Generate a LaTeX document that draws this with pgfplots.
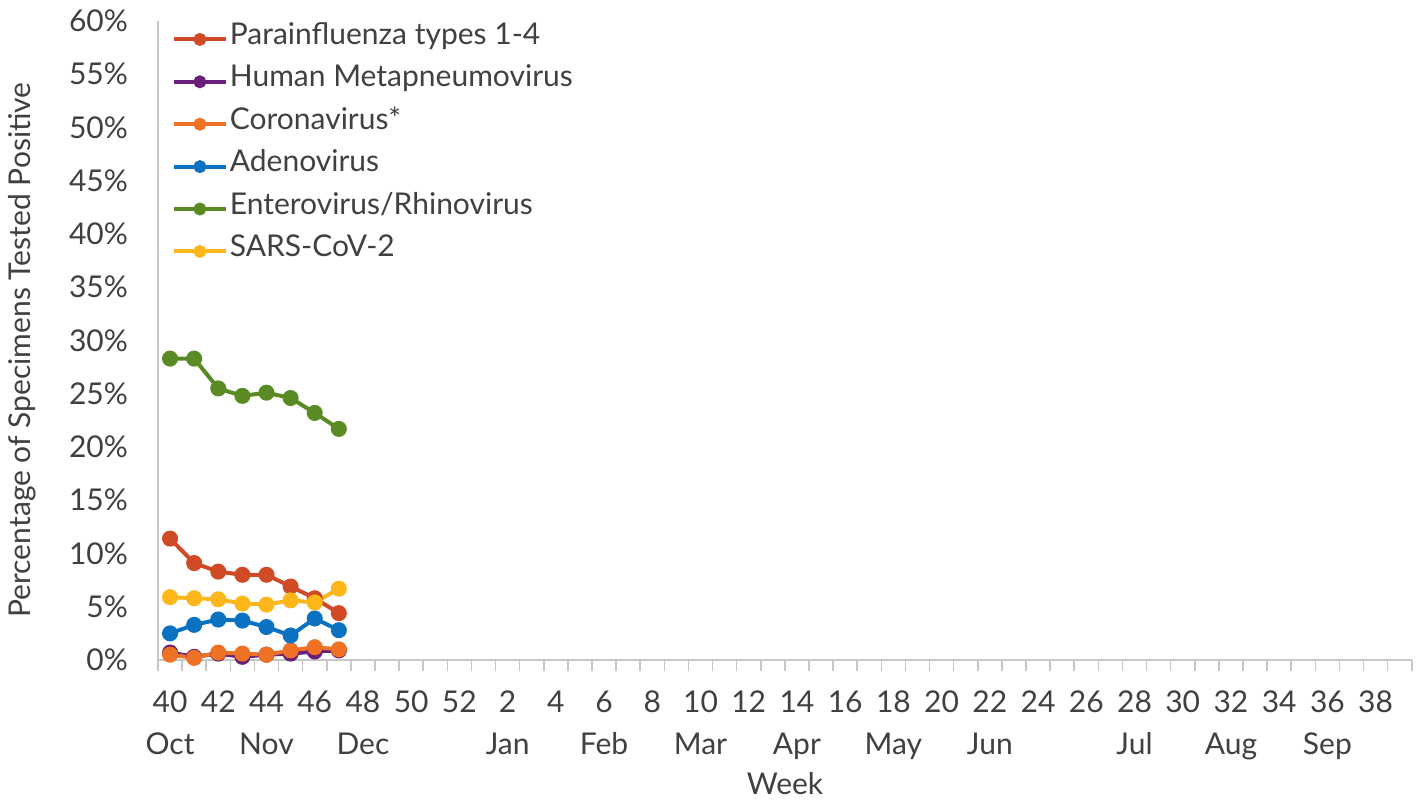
\documentclass[border=0pt]{standalone}
\usepackage{fontspec}
\setmainfont{Lato}
\usepackage{pgfplots}
\pgfplotsset{compat=1.18}

\definecolor{cPara}{HTML}{D04A25}
\definecolor{cHmpv}{HTML}{6A1F7A}
\definecolor{cCorona}{HTML}{EE7124}
\definecolor{cAdeno}{HTML}{0A72C0}
\definecolor{cEntero}{HTML}{5A8A24}
\definecolor{cSars}{HTML}{FDB71A}
\definecolor{txt}{HTML}{404040}
\definecolor{axgray}{HTML}{C8C8C8}

% week index: 0 = week 40
\pgfplotstableread{
idx para hmpv corona adeno entero sars
0 11.4 0.7 0.5 2.5 28.3 5.9
1 9.1 0.3 0.2 3.3 28.3 5.8
2 8.3 0.6 0.7 3.8 25.5 5.7
3 8.0 0.3 0.6 3.7 24.8 5.3
4 8.0 0.5 0.5 3.1 25.1 5.2
5 6.9 0.6 0.9 2.3 24.6 5.6
6 5.8 0.8 1.2 3.9 23.2 5.4
7 4.4 0.9 1.0 2.8 21.7 6.7
}\datatable

\begin{document}
\begin{tikzpicture}
\begin{axis}[
    name=ax,
    at={(0,0)}, anchor=south west,
    scale only axis,
    width=626.9pt, height=319.5pt,
    xmin=-0.5, xmax=51.5,
    ymin=0, ymax=60,
    axis lines=left,
    axis line style={draw=axgray, line width=1pt, -},
    xtick={0,2,...,50},
    xticklabels={{40\\Oct},42,{44\\Nov},46,{48\\Dec},50,52,{2\\Jan},4,{6\\Feb},8,{10\\Mar},12,{14\\Apr},16,{18\\May},20,{22\\Jun},24,26,{28\\Jul},30,{32\\Aug},34,{36\\Sep},38},
    minor xtick={-0.5,0.5,...,51.5},
    major tick length=0pt,
    minor tick length=5.5pt,
    tick align=outside,
    minor tick style={draw=axgray, line width=0.8pt},
    ytick={0,5,...,60},
    yticklabel={\pgfmathprintnumber{\tick}\%},
    /pgf/number format/assume math mode=true,
    tick label style={font=\fontsize{15}{21}\selectfont, text=txt},
    xticklabel style={align=center, yshift=-12pt},
    yticklabel style={xshift=-11.5pt},
    legend style={at={(0.006,1)}, anchor=north west, yshift=3.5pt, draw=none, fill=none,
        font=\fontsize{15}{18}\selectfont, text=txt, row sep=0.2pt,
        nodes={inner sep=1pt, text height=12pt, text depth=7pt}},
    legend cell align=left,
    legend image code/.code={\draw[mark repeat=2,mark phase=2,mark size=2.2pt]
        plot coordinates {(0pt,0pt) (13pt,0pt) (26pt,0pt)};},
    every axis plot/.append style={line width=2pt, mark=*, mark size=3pt},
    clip=false,
]
\addplot[color=cPara] table[x=idx, y=para] {\datatable};
\addlegendentry{Parainfluenza types 1-4}
\addplot[color=cHmpv] table[x=idx, y=hmpv] {\datatable};
\addlegendentry{Human Metapneumovirus}
\addplot[color=cCorona] table[x=idx, y=corona] {\datatable};
\addlegendentry{Coronavirus*}
\addplot[color=cAdeno] table[x=idx, y=adeno] {\datatable};
\addlegendentry{Adenovirus}
\addplot[color=cEntero] table[x=idx, y=entero] {\datatable};
\addlegendentry{Enterovirus/Rhinovirus}
\addplot[color=cSars] table[x=idx, y=sars] {\datatable};
\addlegendentry{SARS-CoV-2}
\end{axis}
\node[rotate=90, text=txt, font=\fontsize{15}{18}\selectfont] at (-68pt,155pt) {Percentage of Specimens Tested Positive};
\node[text=txt, font=\fontsize{15}{18}\selectfont] at (313.5pt,-62pt) {Week};
\path (-79pt,-69.5pt) rectangle (632pt,330pt);
\end{tikzpicture}
\end{document}
